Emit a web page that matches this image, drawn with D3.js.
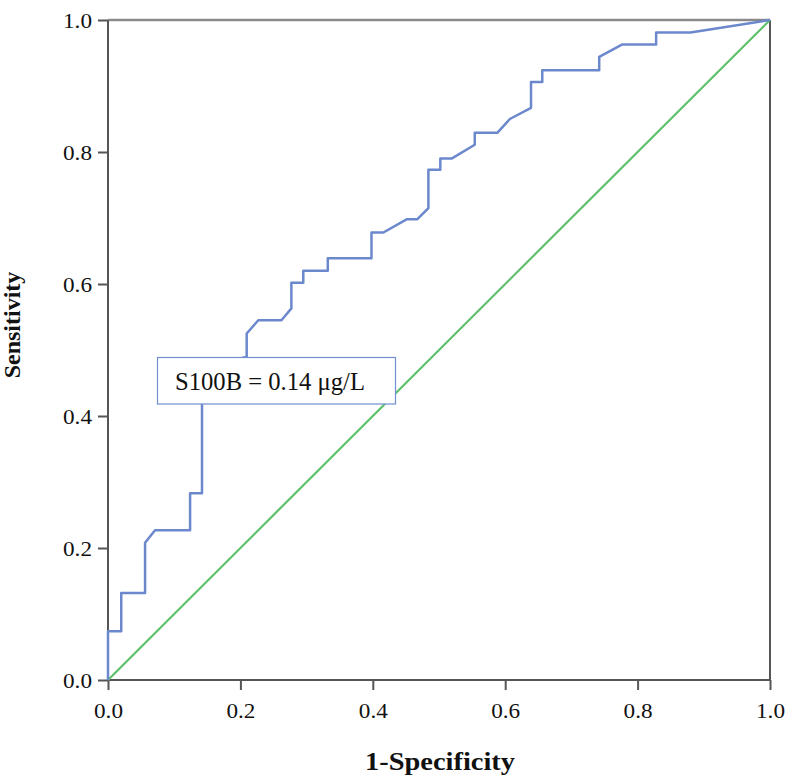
<!DOCTYPE html>
<html><head><meta charset="utf-8">
<script src="https://cdn.jsdelivr.net/npm/d3@7"></script>
<style>body{margin:0;background:#fff}</style>
</head><body>
<svg id="c" width="800" height="776"></svg>
<script>
// ROC curve points: 1-Specificity (fpr) and Sensitivity (tpr)
const fpr = [0,0,0.020,0.020,0.056,0.056,0.071,0.124,0.124,0.142,0.142,0.2095,0.2095,0.227,0.262,0.277,0.277,0.295,0.295,0.332,0.332,0.398,0.398,0.416,0.451,0.467,0.484,0.484,0.502,0.502,0.519,0.554,0.554,0.588,0.607,0.639,0.639,0.656,0.656,0.742,0.742,0.777,0.828,0.828,0.880,1.0];
const tpr = [0,0.074,0.074,0.132,0.132,0.208,0.227,0.227,0.283,0.283,0.47,0.49,0.525,0.545,0.545,0.563,0.602,0.602,0.620,0.620,0.639,0.639,0.678,0.678,0.698,0.698,0.715,0.773,0.773,0.790,0.790,0.811,0.829,0.829,0.850,0.867,0.906,0.906,0.924,0.924,0.944,0.963,0.963,0.981,0.981,1.0];
const refX = [0,1];
const refY = [0,1];
const ticks = [0,0.2,0.4,0.6,0.8,1.0];
const tickLabels = ["0.0","0.2","0.4","0.6","0.8","1.0"];
const annotation = "S100B = 0.14 μg/L";
const xTitle = "1-Specificity";
const yTitle = "Sensitivity";

const svg = d3.select("#c");
const x = d3.scaleLinear().domain([0,1]).range([108,770]);
const y = d3.scaleLinear().domain([0,1]).range([680,20]);
const serif = "'Liberation Serif','Times New Roman',serif";

// frame top/right
svg.append("line").attr("x1",x(0)).attr("x2",x(1)).attr("y1",y(1)).attr("y2",y(1)).attr("stroke","#8a8a8a").attr("stroke-width",2.4);
svg.append("line").attr("x1",x(1)).attr("x2",x(1)).attr("y1",y(0)).attr("y2",y(1)).attr("stroke","#555").attr("stroke-width",2);

// axes
const xAxis = d3.axisBottom(x).tickValues(ticks).tickFormat((d,i)=>tickLabels[i]).tickSize(10).tickPadding(12);
const yAxis = d3.axisLeft(y).tickValues(ticks).tickFormat((d,i)=>tickLabels[i]).tickSize(10).tickPadding(6);
const gx = svg.append("g").attr("transform",`translate(0,${y(0)})`).call(xAxis);
const gy = svg.append("g").attr("transform",`translate(${x(0)},0)`).call(yAxis);
[gx,gy].forEach(g=>{
  g.select(".domain").attr("stroke","#555").attr("stroke-width",2);
  g.selectAll(".tick line").attr("stroke","#555").attr("stroke-width",2);
  g.selectAll(".tick text").attr("fill","#111").style("font-family",serif).style("font-size","22px")
    .attr("textLength",29).attr("lengthAdjust","spacingAndGlyphs");
});
gy.select(".domain").attr("d",`M0,${y(0)}V${y(1)}`);
gx.select(".domain").attr("d",`M${x(0)},0H${x(1)}`);

// reference line
svg.append("path").datum(refX.map((v,i)=>[v,refY[i]]))
  .attr("d",d3.line().x(d=>x(d[0])).y(d=>y(d[1])))
  .attr("fill","none").attr("stroke","#5fc06b").attr("stroke-width",2.2);

// ROC curve
svg.append("path").datum(fpr.map((v,i)=>[v,tpr[i]]))
  .attr("d",d3.line().x(d=>x(d[0])).y(d=>y(d[1])))
  .attr("fill","none").attr("stroke","#6c88cd").attr("stroke-width",2.5).attr("stroke-linejoin","round");

// annotation box
svg.append("rect").attr("x",157.5).attr("y",357.5).attr("width",238).attr("height",46.5)
  .attr("fill","#fff").attr("stroke","#6f8fd0").attr("stroke-width",1.2);
svg.append("text").attr("x",175).attr("y",390).text(annotation)
  .style("font-family",serif).style("font-size","25px").attr("fill","#111")
  .attr("textLength",190).attr("lengthAdjust","spacingAndGlyphs");

// titles
svg.append("text").attr("x",440).attr("y",770).attr("text-anchor","middle").text(xTitle)
  .style("font-family",serif).style("font-size","25px").style("font-weight","bold").attr("fill","#111")
  .attr("textLength",150).attr("lengthAdjust","spacingAndGlyphs");
svg.append("text").attr("transform","translate(20,325) rotate(-90)").attr("text-anchor","middle").text(yTitle)
  .style("font-family",serif).style("font-size","24px").style("font-weight","bold").attr("fill","#111");
</script>
</body></html>
